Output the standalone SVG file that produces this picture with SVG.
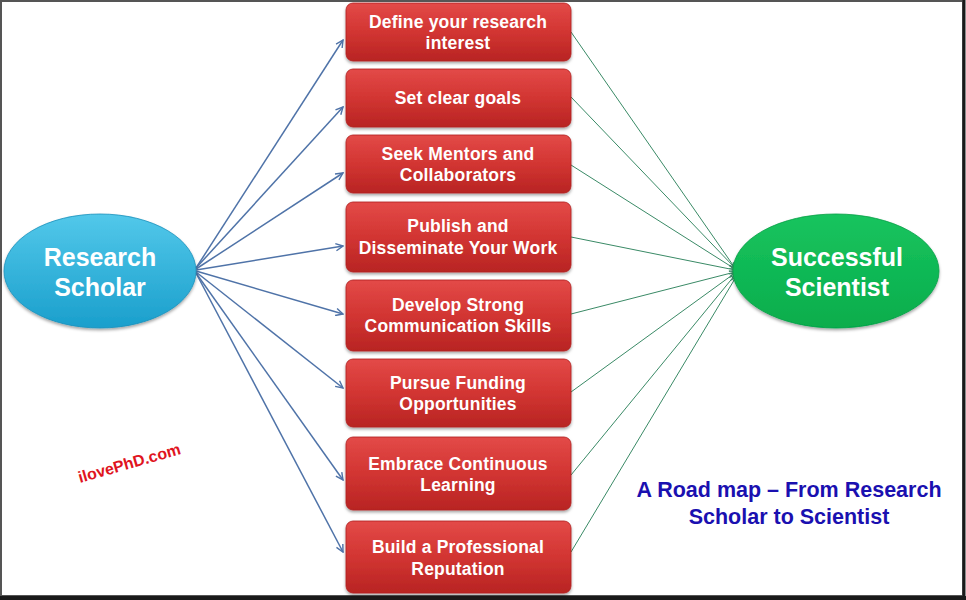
<svg xmlns="http://www.w3.org/2000/svg" width="966" height="600" viewBox="0 0 966 600">
<defs>
<linearGradient id="gRed" x1="0" y1="0" x2="0" y2="1">
<stop offset="0" stop-color="#e34a48"/>
<stop offset="0.5" stop-color="#d23532"/>
<stop offset="1" stop-color="#b82423"/>
</linearGradient>
<linearGradient id="gBlue" x1="0" y1="0" x2="0" y2="1">
<stop offset="0" stop-color="#52c8ea"/>
<stop offset="1" stop-color="#1a9fcc"/>
</linearGradient>
<linearGradient id="gGreen" x1="0" y1="0" x2="0" y2="1">
<stop offset="0" stop-color="#18c45e"/>
<stop offset="1" stop-color="#07ad4c"/>
</linearGradient>
<filter id="sh" x="-10%" y="-10%" width="120%" height="130%">
<feDropShadow dx="0" dy="2" stdDeviation="1.5" flood-color="#000" flood-opacity="0.35"/>
</filter>
<marker id="ab" viewBox="0 0 10 10" refX="9" refY="5" markerWidth="9" markerHeight="9" markerUnits="userSpaceOnUse" orient="auto">
<path d="M1,1 L9,5 L1,9" fill="none" stroke="#4f73a8" stroke-width="1.6"/>
</marker>
<marker id="ag" viewBox="0 0 10 10" refX="9" refY="5" markerWidth="7" markerHeight="7" markerUnits="userSpaceOnUse" orient="auto">
<path d="M1,1 L9,5 L1,9" fill="none" stroke="#3a8a66" stroke-width="1.4"/>
</marker>
</defs>
<style>
.box{fill:url(#gRed);stroke:#b02020;stroke-width:0.8;filter:url(#sh)}
.bt{font-family:"Liberation Sans",Arial,sans-serif;font-weight:bold;font-size:17.5px;letter-spacing:0.2px;fill:#ffffff;text-anchor:middle}
.et{font-family:"Liberation Sans",Arial,sans-serif;font-weight:bold;font-size:25px;fill:#ffffff;text-anchor:middle}
.bl{stroke:#4f73a8;stroke-width:1.5;fill:none;marker-end:url(#ab)}
.gl{stroke:#3a8a66;stroke-width:1;fill:none;marker-end:url(#ag)}
</style>
<rect x="0" y="0" width="966" height="600" fill="#ffffff"/>
<rect x="1" y="1" width="962" height="595" fill="none" stroke="#555555" stroke-width="2"/>
<line x1="964" y1="0" x2="964" y2="600" stroke="#1a1a1a" stroke-width="3"/>
<line x1="0" y1="598" x2="966" y2="598" stroke="#1a1a1a" stroke-width="4"/>

<g id="connectors">
<line class="bl" x1="196" y1="268" x2="343" y2="40"/>
<line class="bl" x1="196" y1="268" x2="343" y2="107"/>
<line class="bl" x1="196" y1="269" x2="343" y2="173"/>
<line class="bl" x1="196" y1="270" x2="343" y2="246"/>
<line class="bl" x1="196" y1="271" x2="343" y2="314"/>
<line class="bl" x1="196" y1="272" x2="343" y2="388"/>
<line class="bl" x1="196" y1="273" x2="343" y2="480"/>
<line class="bl" x1="196" y1="273" x2="343" y2="552"/>
<line class="gl" x1="571" y1="32" x2="735" y2="268"/>
<line class="gl" x1="571" y1="97" x2="735" y2="268"/>
<line class="gl" x1="571" y1="165" x2="735" y2="269"/>
<line class="gl" x1="571" y1="237" x2="735" y2="270"/>
<line class="gl" x1="571" y1="314" x2="735" y2="272"/>
<line class="gl" x1="571" y1="392" x2="735" y2="273"/>
<line class="gl" x1="571" y1="475" x2="735" y2="275"/>
<line class="gl" x1="571" y1="552" x2="736" y2="277"/>
</g>

<g id="research-scholar">
<ellipse cx="100" cy="271" rx="96" ry="57" fill="url(#gBlue)" stroke="#1a90bb" stroke-width="0.8" filter="url(#sh)"/>
<text class="et" x="100" y="266">Research</text>
<text class="et" x="100" y="296">Scholar</text>
</g>

<g id="successful-scientist">
<ellipse cx="836" cy="271" rx="103" ry="57" fill="url(#gGreen)" stroke="#06a046" stroke-width="0.8" filter="url(#sh)"/>
<text class="et" x="837" y="266">Successful</text>
<text class="et" x="837" y="296">Scientist</text>
</g>

<g id="box1">
<rect class="box" x="346" y="3" width="225" height="58" rx="7"/>
<text class="bt" x="458" y="28">Define your research</text>
<text class="bt" x="458" y="49">interest</text>
</g>
<g id="box2">
<rect class="box" x="346" y="69" width="225" height="58" rx="7"/>
<text class="bt" x="458" y="104">Set clear goals</text>
</g>
<g id="box3">
<rect class="box" x="346" y="135" width="225" height="58" rx="7"/>
<text class="bt" x="458" y="160">Seek Mentors and</text>
<text class="bt" x="458" y="181">Collaborators</text>
</g>
<g id="box4">
<rect class="box" x="346" y="202" width="225" height="70" rx="7"/>
<text class="bt" x="458" y="232">Publish and</text>
<text class="bt" x="458" y="254">Disseminate Your Work</text>
</g>
<g id="box5">
<rect class="box" x="346" y="280" width="225" height="71" rx="7"/>
<text class="bt" x="458" y="311">Develop Strong</text>
<text class="bt" x="458" y="332">Communication Skills</text>
</g>
<g id="box6">
<rect class="box" x="346" y="359" width="225" height="68" rx="7"/>
<text class="bt" x="458" y="389">Pursue Funding</text>
<text class="bt" x="458" y="410">Opportunities</text>
</g>
<g id="box7">
<rect class="box" x="346" y="437" width="225" height="73" rx="7"/>
<text class="bt" x="458" y="470">Embrace Continuous</text>
<text class="bt" x="458" y="491">Learning</text>
</g>
<g id="box8">
<rect class="box" x="346" y="521" width="225" height="72" rx="7"/>
<text class="bt" x="458" y="553">Build a Professional</text>
<text class="bt" x="458" y="575">Reputation</text>
</g>

<text x="80" y="483" transform="rotate(-16 80 483)" font-family="Liberation Sans, Arial, sans-serif" font-weight="bold" font-size="16" fill="#e0141e">ilovePhD.com</text>

<g id="title" font-family="Liberation Sans, Arial, sans-serif" font-weight="bold" font-size="21.5" fill="#1a10b0" text-anchor="middle">
<text x="789" y="497">A Road map – From Research</text>
<text x="789" y="524">Scholar to Scientist</text>
</g>
</svg>
